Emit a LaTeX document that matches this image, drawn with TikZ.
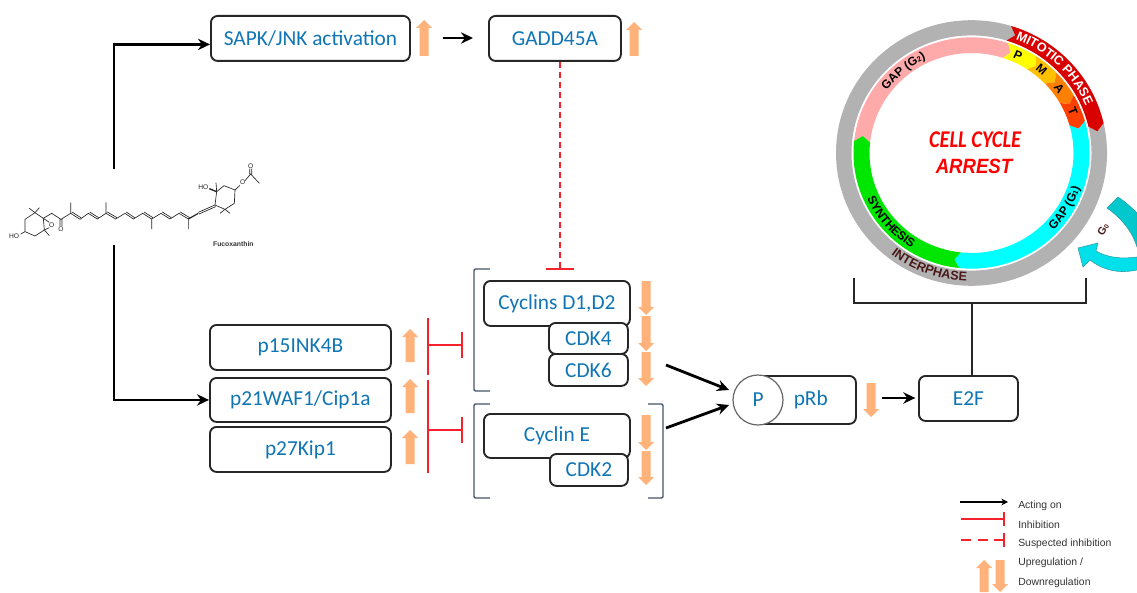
\documentclass[tikz,border=0pt]{standalone}
\usepackage{fontspec}
\setmainfont{Carlito}
\newfontfamily\lib{Liberation Sans}
\usetikzlibrary{calc,arrows.meta,decorations.text}
\definecolor{boxtxt}{HTML}{0F75B5}
\definecolor{orng}{HTML}{FFB27A}
\definecolor{brk}{HTML}{44546A}
\definecolor{redl}{HTML}{F5222D}
\definecolor{ringgrey}{HTML}{B2B2B2}
\definecolor{mitred}{HTML}{D90000}
\definecolor{pinkr}{HTML}{FFAAAA}
\definecolor{yelr}{HTML}{FFFF00}
\definecolor{org1}{HTML}{FFC000}
\definecolor{org2}{HTML}{FF8000}
\definecolor{org3}{HTML}{FF4000}
\definecolor{cyar}{HTML}{00FFFF}
\definecolor{grnr}{HTML}{00E600}
\definecolor{teal1}{HTML}{00C8CC}
\definecolor{teal2}{HTML}{00E0EA}
\definecolor{tealo}{HTML}{2E9CA6}
\definecolor{darkred}{HTML}{4A1A1A}
\tikzset{
 bx/.style={draw=black!85,line width=1.4pt,rounded corners=5pt,fill=white,text=boxtxt,font=\fontsize{16}{18}\selectfont,inner sep=0pt,anchor=north west},
 act/.style={draw=black,line width=2.1pt,-{Stealth[length=9pt,width=8.5pt]}},
 inh/.style={draw=redl,line width=1.3pt},
 inhd/.style={draw=redl,line width=1.3pt,dash pattern=on 4.5pt off 3pt},
 brack/.style={draw=brk,line width=1.1pt,rounded corners=1pt},
 mol/.style={draw=black!85,line width=.5pt},
 molt/.style={inner sep=0pt,font=\lib\fontsize{5}{6}\selectfont,text=black!85},
 lg/.style={font=\lib\fontsize{7.8}{9}\selectfont,text=black!80,anchor=west,inner sep=0pt},
 ringtxt/.style={font=\lib\bfseries\fontsize{9}{10}\selectfont,inner sep=0pt},
}
% orange block arrows: x, y start (tail), y end (tip)
\newcommand{\blockarrow}[3]{\fill[orng] ({#1-4.5},#2) -- ({#1+4.5},#2) -- ({#1+4.5},{#3-(8*sign(#3-#2))}) -- ({#1+8},{#3-(8*sign(#3-#2))}) -- (#1,#3) -- ({#1-8},{#3-(8*sign(#3-#2))}) -- ({#1-4.5},{#3-(8*sign(#3-#2))}) -- cycle;}
% ring segment, clockwise from #1 to #2, between radii #3 and #4
\newcommand{\seg}[5]{\fill[#5] (#1:#3) -- ({#1-3}:{(#3+#4)/2}) -- (#1:#4) arc[start angle=#1,end angle=#2,radius=#4] -- ({#2-3}:{(#3+#4)/2}) -- (#2:#3) arc[start angle=#2,end angle=#1,radius=#3] -- cycle;}
\begin{document}
\begin{tikzpicture}[x=.75pt,y=-.75pt]
\useasboundingbox (0,0) rectangle (1137,592);
\fill[white] (0,0) rectangle (1137,592);

% molecule (coordinates are those of a 3x crop)
\begin{scope}[shift={(0,160)},x=.25pt,y=-.25pt]
\draw[mol] (62,222)--(75,215)--(75,178)--(105,158)--(130,175)--(133,210)--(105,228)--(75,215);
\draw[mol] (105,158)--(88,145) (105,158)--(118,143) (130,175)--(148,187) (148,203)--(133,210) (133,210)--(148,227);
\draw[mol] (130,175)--(155,160)--(183,178) (180,178)--(180,198) (186,178)--(186,198) (183,178)--(212,160)--(212,128);
\draw[mol] (212,160)--(240,178)--(265,160)--(292,177)--(318,160)--(318,127) (318,160)--(347,177)--(375,160)--(400,177)--(428,160)--(455,177)--(455,207) (455,177)--(483,160)--(510,177)--(537,160)--(565,177)--(565,207);
\draw[mol] (216,156)--(244,174) (269,156)--(296,173) (322,156)--(351,173) (379,156)--(404,173) (432,156)--(459,173) (487,156)--(514,173) (541,156)--(569,173);
\draw[mol,line width=.9pt] (565,177)--(595,160);
\draw[mol] (595,157)--(645,135) (597,162)--(647,140);
\draw[mol] (645,135)--(650,95)--(672,77)--(705,90)--(703,130)--(675,148)--(645,135);
\draw[mol] (650,95)--(648,68) (675,148)--(660,160) (675,148)--(690,160) (705,90)--(720,76) (735,62)--(752,42)--(778,70) (749,42)--(749,26) (755,42)--(755,26);
\draw[mol,line width=1pt] (650,95)--(628,86);
\node[molt] (ho1) at (42,228) {HO};
\node[molt] (ho2) at (610,81) {HO};
\node[molt] (o1) at (155,195) {O};
\node[molt] (o2) at (183,207) {O};
\node[molt] (o3) at (728,68) {O};
\node[molt] (o4) at (752,18) {O};
\node[inner sep=0pt,font=\lib\bfseries\fontsize{5.1}{6}\selectfont,text=black!80] (fuco) at (700,252) {Fucoxanthin};
\end{scope}

% boxes
\node[bx,minimum width=199*.75pt,minimum height=45*.75pt] (sapk) at (210,15) {SAPK/JNK activation};
\node[bx,minimum width=132*.75pt,minimum height=45*.75pt] (gadd) at (488,15) {GADD45A};
\node[bx,minimum width=181*.75pt,minimum height=45*.75pt] (p15) at (209,324) {p15INK4B};
\node[bx,minimum width=181*.75pt,minimum height=44*.75pt] (p21) at (209,377) {p21WAF1/Cip1a};
\node[bx,minimum width=181*.75pt,minimum height=45*.75pt] (p27) at (209,426) {p27Kip1};
\node[bx,minimum width=146*.75pt,minimum height=45*.75pt] (cycd) at (483,280) {Cyclins D1,D2};
\node[bx,minimum width=79*.75pt,minimum height=31*.75pt] (cdk4) at (548,322) {CDK4};
\node[bx,minimum width=79*.75pt,minimum height=32*.75pt] (cdk6) at (548,353) {CDK6};
\node[bx,minimum width=146*.75pt,minimum height=44*.75pt] (cyce) at (483,413) {Cyclin E};
\node[bx,minimum width=78*.75pt,minimum height=32*.75pt] (cdk2) at (549,453) {CDK2};
\node[bx,minimum width=105*.75pt,minimum height=48*.75pt] (prb) at (750,375) {\hspace*{11pt}pRb};
\node[circle,draw=black!60,line width=.9pt,fill=white,minimum size=50*.75pt,inner sep=0pt,text=boxtxt,font=\fontsize{16}{18}\selectfont] (p) at (758,400) {P};
\node[bx,minimum width=99*.75pt,minimum height=45*.75pt] (e2f) at (918,375) {E2F};

% orange arrows
\blockarrow{424}{56}{20}
\blockarrow{634}{56}{22}
\blockarrow{410}{362}{329}
\blockarrow{410}{413}{379}
\blockarrow{410}{464}{430}
\blockarrow{646}{281}{315}
\blockarrow{646}{316}{351}
\blockarrow{646}{352}{386}
\blockarrow{646}{415}{450}
\blockarrow{646}{451}{485}
\blockarrow{871}{383}{417}

% black connectors
\coordinate (fa) at (114,169);
\coordinate (fb) at (114,245);
\coordinate (sg1) at (443,38);
\coordinate (sg2) at (473,38);
\coordinate (c1) at (666,365);
\coordinate (c2) at (666,428);
\coordinate (pr1) at (882,398);
\coordinate (bl) at (854,278);
\coordinate (br) at (1086,278);
\coordinate (bm) at (972,303);
\draw[act] (fa) |- ([yshift=-4.5pt]sapk.west);
\draw[act] (fb) |- (p21.west);
\draw[act] (sg1) -- (sg2);
\draw[act] (c1) -- ([shift={(-2.5pt,7.5pt)}]p.west);
\draw[act] (c2) -- ([shift={(-2.5pt,-3.75pt)}]p.west);
\draw[act] (pr1) -- ([xshift=-2pt]e2f.west|-pr1);
\draw[draw=black!85,line width=1.2pt] (bl) |- (bm) -| (br);
\draw[draw=black!85,line width=1.2pt] (bm) -- (e2f.north-|bm);

% inhibition
\coordinate (dt) at (560,269);
\coordinate (i1t) at (428,318);
\coordinate (i1b) at (428,375);
\coordinate (i1m) at (428,345);
\coordinate (i1e) at (462,345);
\coordinate (i2t) at (428,380);
\coordinate (i2b) at (428,473);
\coordinate (i2m) at (428,430);
\coordinate (i2e) at (462,430);
\draw[inhd] (gadd.south-|dt) -- (dt);
\draw[inh] ([xshift=-10.5pt]dt) -- ([xshift=10.5pt]dt);
\draw[inh] (i1t) -- (i1b);
\draw[inh] (i1m) -- (i1e);
\draw[inh] ([yshift=10pt]i1e) -- ([yshift=-10pt]i1e);
\draw[inh] (i2t) -- (i2b);
\draw[inh] (i2m) -- (i2e);
\draw[inh] ([yshift=10pt]i2e) -- ([yshift=-10pt]i2e);

% brackets
\draw[brack] (490,269) -- (474,269) -- (474,391) -- (490,391);
\draw[brack] (490,404) -- (474,404) -- (474,498) -- (490,498);
\draw[brack] (648,404) -- (663,404) -- (663,498) -- (648,498);

% cell cycle
\begin{scope}[shift={(971.5,153)},x=.75pt,y=.735pt]
\fill[ringgrey,even odd rule] (0,0) circle[radius=135.5] (0,0) circle[radius=120];
\seg{73}{13}{120}{135.5}{mitred}
\seg{174}{72}{102}{118}{pinkr}
\seg{72}{57}{102}{118}{yelr}
\seg{57}{44}{102}{118}{org1}
\seg{44}{30}{102}{118}{org2}
\seg{30}{16}{102}{118}{org3}
\seg{16}{-96}{102}{118}{cyar}
\seg{-96}{-186}{102}{118}{grnr}
% ring texts
\path[decorate,decoration={text along path,text align=center,text={|\lib\bfseries\fontsize{9.5}{10}\selectfont\color{white}|MITOTIC PHASE}}] (75:124) arc[start angle=75,end angle=17,radius=124];
\path[decorate,decoration={text along path,text align=center,text={|\lib\bfseries\fontsize{9}{10}\selectfont|GAP (G|\lib\bfseries\fontsize{5.5}{6}\selectfont|2|\lib\bfseries\fontsize{9}{10}\selectfont|)}}] (167:106) arc[start angle=167,end angle=92,radius=106];
\path[decorate,decoration={text along path,text align=center,text={|\lib\bfseries\fontsize{9}{10}\selectfont|GAP (G|\lib\bfseries\fontsize{5.5}{6}\selectfont|1|\lib\bfseries\fontsize{9}{10}\selectfont|)}}] (-56:114) arc[start angle=-56,end angle=-6,radius=114];
\path[decorate,decoration={text along path,text align=center,text={|\lib\bfseries\fontsize{9}{10}\selectfont|SYNTHESIS}}] (-169:114) arc[start angle=-169,end angle=-109,radius=114];
\path[decorate,decoration={text along path,text align=center,text={|\lib\bfseries\fontsize{9.5}{10}\selectfont\color{darkred}|INTERPHASE}}] (-130:131) arc[start angle=-130,end angle=-90,radius=131];
\node[ringtxt,rotate=-25] (lp) at (65:110) {P};
\node[ringtxt,rotate=-40] (lm) at (50.5:110) {M};
\node[ringtxt,rotate=-53] (la) at (37:110) {A};
\node[ringtxt,rotate=-67] (lt) at (23:110) {T};
\end{scope}
\node[text=red,font=\bfseries\itshape\fontsize{18}{20}\selectfont,inner sep=0pt,xscale=.85] (cc) at (975,140) {CELL CYCLE};
\node[text=red,font=\lib\bfseries\itshape\fontsize{15.5}{17}\selectfont,inner sep=0pt,xscale=.9] (ar) at (974,166) {ARREST};

% G0 arrows
\fill[teal1,draw=tealo,line width=.4pt] (1118,197) .. controls (1124,201) and (1131,207) .. (1137,213) -- (1137,247) .. controls (1133,234) and (1124,220) .. (1107,208) -- cycle;
\fill[teal2,draw=tealo,line width=.4pt] (1078,248) -- (1098,243) -- (1096,251) .. controls (1108,258) and (1122,259) .. (1137,257) -- (1137,270) .. controls (1118,274) and (1103,270) .. (1090,260) -- (1083,267) -- cycle;
\node[font=\lib\bfseries\fontsize{8}{9}\selectfont,text=darkred,rotate=60,inner sep=0pt] (g0) at (1103,230) {G\raisebox{-.3pt}{\fontsize{5}{6}\selectfont 0}};

% legend
\coordinate (l1a) at (960,502);
\coordinate (l1b) at (1008,502);
\coordinate (l2a) at (961,519);
\coordinate (l2b) at (1004,519);
\coordinate (l3a) at (961,540);
\coordinate (l3b) at (1004,540);
\draw[act,line width=1.4pt,-{Stealth[length=5pt,width=5pt]}] (l1a) -- (l1b);
\draw[inh] (l2a) -- (l2b);
\draw[inh] ([yshift=5pt]l2b) -- ([yshift=-5pt]l2b);
\draw[inhd,dash pattern=on 7.5pt off 5pt] (l3a) -- (l3b);
\draw[inh] ([yshift=5pt]l3b) -- ([yshift=-5pt]l3b);
\node[lg] (t1) at (1018,506) {Acting on};
\node[lg] (t2) at (1018,525) {Inhibition};
\node[lg] (t3) at (1018,544) {Suspected inhibition};
\node[lg] (t4) at (1018,563) {Upregulation /};
\node[lg] (t5) at (1018,583) {Downregulation};
\blockarrow{984}{592}{560}
\blockarrow{1000}{560}{592}
\end{tikzpicture}
\end{document}
